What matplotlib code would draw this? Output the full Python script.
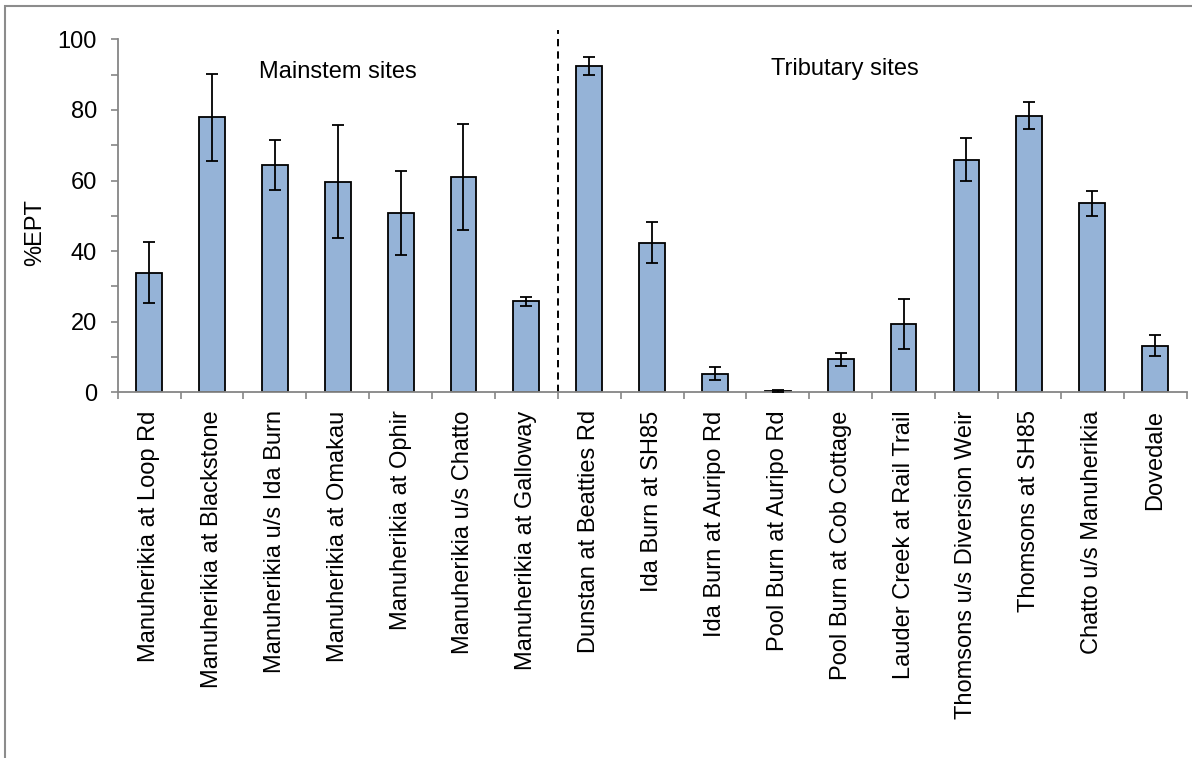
import matplotlib
matplotlib.use("Agg")
import matplotlib.pyplot as plt
from matplotlib.patches import Rectangle
from matplotlib.ticker import MultipleLocator, FixedLocator
import numpy as np

plt.rcParams['font.family'] = ['Liberation Sans', 'DejaVu Sans']

sites = [
    "Manuherikia at Loop Rd",
    "Manuherikia at Blackstone",
    "Manuherikia u/s Ida Burn",
    "Manuherikia at Omakau",
    "Manuherikia at Ophir",
    "Manuherikia u/s Chatto",
    "Manuherikia at Galloway",
    "Dunstan at Beatties Rd",
    "Ida Burn at SH85",
    "Ida Burn at Auripo Rd",
    "Pool Burn at Auripo Rd",
    "Pool Burn at Cob Cottage",
    "Lauder Creek at Rail Trail",
    "Thomsons u/s Diversion Weir",
    "Thomsons at SH85",
    "Chatto u/s Manuherikia",
    "Dovedale",
]
ept_mean = [33.9, 77.9, 64.3, 59.7, 50.7, 61.0, 25.8,
            92.5, 42.4, 5.3, 0.4, 9.3, 19.3, 65.9, 78.4, 53.5, 13.2]
ept_err = [8.6, 12.3, 7.1, 16.1, 11.9, 15.0, 1.3,
           2.6, 5.8, 1.8, 0.2, 1.9, 7.1, 6.1, 3.7, 3.6, 3.0]
n_mainstem = 7
group_labels = ["Mainstem sites", "Tributary sites"]

W, H, DPI = 1192, 758, 100
fig = plt.figure(figsize=(W / DPI, H / DPI), dpi=DPI)
fig.patch.set_facecolor("white")

# outer chart frame (left and top edges visible)
fig.patches.append(Rectangle((5 / W, -0.05), 1.2, (H - 6) / H + 0.05,
                             transform=fig.transFigure, fill=False,
                             edgecolor="#8c8c8c", linewidth=1.5, zorder=0))

ax = fig.add_axes([117.7 / W, 1 - 392.3 / H, (1186.5 - 117.7) / W, (392.3 - 39.3) / H])

x = np.arange(len(sites))
ax.bar(x, ept_mean, width=0.41, color="#95B3D7", edgecolor="black",
       linewidth=1.3, zorder=2)
ax.errorbar(x, ept_mean, yerr=ept_err, fmt="none", ecolor="black",
            elinewidth=1.3, capsize=4.2, capthick=1.3, zorder=3)

ax.set_xlim(-0.5, len(sites) - 0.5)
ax.set_ylim(0, 100)

grey = "#868686"
for side in ("top", "right"):
    ax.spines[side].set_visible(False)
for side in ("left", "bottom"):
    ax.spines[side].set_color(grey)
    ax.spines[side].set_linewidth(1.3)

ax.yaxis.set_major_locator(MultipleLocator(20))
ax.yaxis.set_minor_locator(MultipleLocator(10))
ax.tick_params(axis="y", which="both", direction="out", length=5,
               width=1.2, color=grey, labelsize=17, pad=10)

# category labels at bar centres, tick marks at category boundaries
ax.set_xticks(x)
ax.set_xticklabels(sites, rotation=90, fontsize=17)
ax.xaxis.set_minor_locator(FixedLocator(np.arange(-0.5, len(sites), 1.0)))
ax.tick_params(axis="x", which="major", length=0, pad=13)
ax.tick_params(axis="x", which="minor", direction="out", length=5,
               width=1.2, color=grey)

# divider between mainstem and tributary sites
ax.plot([n_mainstem - 0.5, n_mainstem - 0.5], [0, 102.5], color="black",
        linestyle=(0, (3.75, 2.6)), linewidth=1.4, clip_on=False, zorder=1)

ax.text(3.0, 88.9, group_labels[0], fontsize=17, ha="center", va="baseline")
ax.text(11.06, 89.9, group_labels[1], fontsize=17, ha="center", va="baseline")

fig.text(35.5 / W, 1 - 233 / H, "%EPT", rotation=90, fontsize=17,
         ha="center", va="center")

fig.savefig("out.png", dpi=DPI, facecolor="white")
